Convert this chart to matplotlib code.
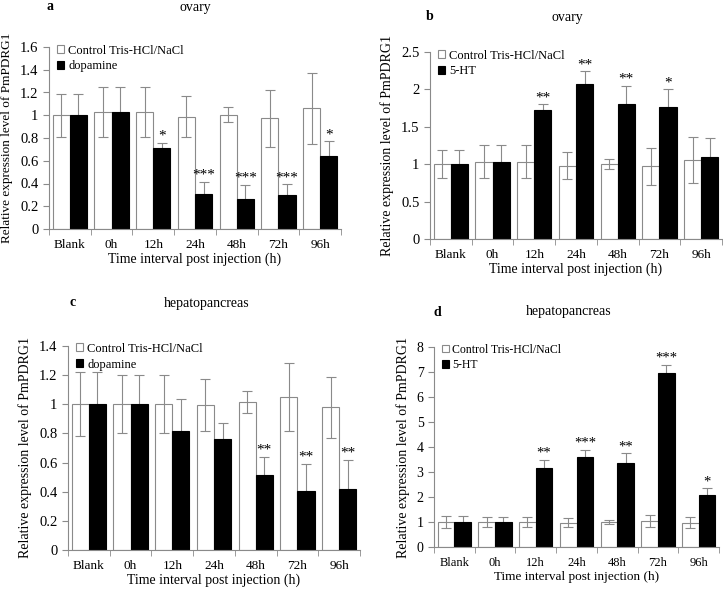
"""Four panel bar chart of PmPDRG1 expression."""

import numpy as np
import matplotlib.pyplot as plt

plt.rcParams['font.family'] = ['Liberation Serif', 'DejaVu Serif']

categories = ['Blank', '0h', '12h', '24h', '48h', '72h', '96h']

# a: ovary, dopamine
a_ctrl = [1.0, 1.03, 1.03, 0.985, 1.005, 0.975, 1.06]
a_ctrl_err = [0.19, 0.22, 0.22, 0.18, 0.065, 0.25, 0.31]
a_trt = [1.0, 1.03, 0.71, 0.31, 0.26, 0.30, 0.64]
a_trt_err = [0.19, 0.22, 0.05, 0.105, 0.13, 0.095, 0.13]
a_stars = ['', '', '*', '***', '***', '***', '*']

# b: ovary, 5-HT
b_ctrl = [1.0, 1.03, 1.03, 0.98, 1.0, 0.97, 1.06]
b_ctrl_err = [0.19, 0.22, 0.22, 0.18, 0.07, 0.25, 0.31]
b_trt = [1.0, 1.03, 1.73, 2.07, 1.81, 1.76, 1.09]
b_trt_err = [0.19, 0.22, 0.07, 0.17, 0.24, 0.24, 0.26]
b_stars = ['', '', '**', '**', '**', '*', '']

# c: hepatopancreas, dopamine
c_ctrl = [1.0, 1.0, 1.0, 0.995, 1.015, 1.05, 0.98]
c_ctrl_err = [0.22, 0.2, 0.2, 0.18, 0.075, 0.23, 0.21]
c_trt = [1.0, 1.0, 0.82, 0.76, 0.515, 0.405, 0.42]
c_trt_err = [0.22, 0.2, 0.215, 0.11, 0.125, 0.185, 0.2]
c_stars = ['', '', '', '', '**', '**', '**']

# d: hepatopancreas, 5-HT
d_ctrl = [1.0, 1.0, 1.0, 0.98, 1.0, 1.05, 0.98]
d_ctrl_err = [0.23, 0.2, 0.2, 0.18, 0.07, 0.23, 0.21]
d_trt = [1.0, 1.0, 3.15, 3.6, 3.35, 6.98, 2.1]
d_trt_err = [0.23, 0.2, 0.35, 0.3, 0.4, 0.3, 0.25]
d_stars = ['', '', '**', '***', '**', '***', '*']

GRAY = '#8a8a8a'
W, H = 723, 589


def px_rect(left, right, bottom, top):
    return [left / W, 1 - bottom / H, (right - left) / W, (bottom - top) / H]


def panel(fig, rect, ctrl, ctrl_err, trt, trt_err, stars, trt_name,
          ylim, yticks, ytick_labels, fs=9.5, yl_fs=9.5):
    ax = fig.add_axes(rect)
    x = np.arange(len(categories))
    w = 0.41
    ekw = dict(ecolor=GRAY, elinewidth=0.8, capsize=3.5, capthick=0.8)
    ax.bar(x - w / 2, ctrl, w, color='white', edgecolor=GRAY, linewidth=0.8,
           yerr=ctrl_err, error_kw=ekw, label='Control Tris-HCl/NaCl')
    # error bar under the black bar so only the upper half shows
    ax.errorbar(x + w / 2, trt, yerr=trt_err, fmt='none', zorder=1, **ekw)
    ax.bar(x + w / 2, trt, w, color='black', edgecolor='black', linewidth=0.8,
           zorder=2, label=trt_name)
    for xi, v, e, s in zip(x, trt, trt_err, stars):
        if s:
            ax.annotate(s, (xi + w / 2, v + e), xytext=(0, 0), textcoords='offset points',
                        ha='center', va='bottom', fontsize=fs + 1.5)
    ax.set_xlim(-0.5, len(categories) - 0.5)
    ax.set_ylim(*ylim)
    ax.set_yticks(yticks)
    ax.set_yticklabels(ytick_labels, fontsize=fs + 1)
    ax.set_xticks(x)
    ax.set_xticklabels(categories, fontsize=fs)
    ax.tick_params(axis='x', length=0, pad=7)
    ax.set_xticks(np.arange(len(categories) + 1) - 0.5, minor=True)
    ax.tick_params(axis='x', which='minor', length=4, color=GRAY, direction='out')
    ax.tick_params(axis='y', length=4, color=GRAY, direction='out')
    for side in ['top', 'right']:
        ax.spines[side].set_visible(False)
    for side in ['left', 'bottom']:
        ax.spines[side].set_color(GRAY)
        ax.spines[side].set_linewidth(0.8)
    ax.set_xlabel('Time interval post injection (h)', fontsize=fs + 0.5, labelpad=1.5)
    ax.set_ylabel('Relative expression level of PmPDRG1', fontsize=yl_fs, labelpad=5)
    ax.legend(loc='upper left', bbox_to_anchor=(0.01, 1.04), frameon=False,
              fontsize=fs - 0.5, handlelength=0.6, handleheight=0.6,
              handletextpad=0.3, labelspacing=0.3, borderaxespad=0)
    return ax


fig = plt.figure(figsize=(W / 100, H / 100), dpi=100)

panel(fig, px_rect(49, 341, 229, 47), a_ctrl, a_ctrl_err, a_trt, a_trt_err, a_stars,
      'dopamine', (0, 1.6), np.arange(0, 1.61, 0.2),
      ['0', '0.2', '0.4', '0.6', '0.8', '1', '1.2', '1.4', '1.6'])
panel(fig, px_rect(430, 722, 239, 52), b_ctrl, b_ctrl_err, b_trt, b_trt_err, b_stars,
      '5-HT', (0, 2.5), np.arange(0, 2.51, 0.5),
      ['0', '0.5', '1', '1.5', '2', '2.5'], yl_fs=10)
panel(fig, px_rect(68, 360, 550, 346), c_ctrl, c_ctrl_err, c_trt, c_trt_err, c_stars,
      'dopamine', (0, 1.4), np.arange(0, 1.41, 0.2),
      ['0', '0.2', '0.4', '0.6', '0.8', '1', '1.2', '1.4'], yl_fs=10)
panel(fig, px_rect(434, 719, 547, 347), d_ctrl, d_ctrl_err, d_trt, d_trt_err, d_stars,
      '5-HT', (0, 8), np.arange(0, 8.1, 1),
      [str(i) for i in range(9)], fs=9, yl_fs=10)

titles = [('a', 'ovary', 50, 195, 7), ('b', 'ovary', 430, 567, 17),
          ('c', 'hepatopancreas', 73, 207, 303), ('d', 'hepatopancreas', 437, 569, 312)]
for letter, name, xl, xn, y in titles:
    fig.text(xl / W, 1 - y / H, letter, fontsize=10, fontweight='bold', ha='center', va='center')
    fig.text(xn / W, 1 - y / H, name, fontsize=10, ha='center', va='center')

fig.savefig('out.png', dpi=100)
